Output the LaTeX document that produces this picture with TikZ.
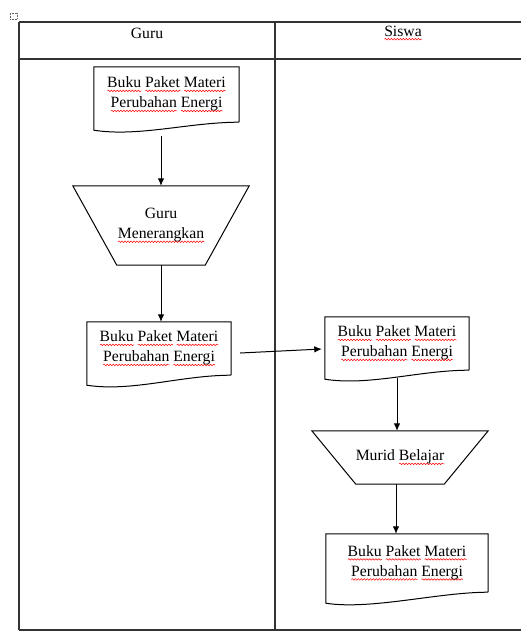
\documentclass[tikz,border=0pt]{standalone}
\usepackage{fontspec}
\setmainfont{Liberation Serif}
\usetikzlibrary{arrows.meta, decorations.pathmorphing}

% red wavy line of the spell check
\newlength{\splw}
\newcommand{\spl}[1]{\settowidth{\splw}{#1}\rlap{\tikz[baseline=0pt]\draw[red, line width=0.5pt, decorate,
  decoration={snake, amplitude=0.8pt, segment length=3pt}] (0pt,-3pt) -- (\splw,-3pt);}#1}
\newcommand{\bukutext}{\spl{Buku} \spl{Paket} \spl{Materi}\\\spl{Perubahan} \spl{Energi}}

\begin{document}
\begin{tikzpicture}[x=1pt, y=-1pt, >={Latex[length=7.5pt,width=6.5pt]},
    txt/.style={font=\fontsize{15.7}{20}\selectfont, align=center, inner sep=0pt},
    tbl/.style={line width=1.4pt, black!80},
    shp/.style={line width=1pt}]
      \useasboundingbox (0,0) rectangle (521,631);

      % Table
      \draw[densely dotted, line width=0.5pt, black!60] (10,13) rectangle (17,19);
      \draw[tbl] (19,22) -- (521,22) (19,59) -- (521,59) (19,630) -- (521,630);
      \draw[tbl] (19,22) -- (19,630) (275,22) -- (275,630);
      \node[txt] (guru) at (147,33) {Guru};
      \node[txt] (siswa) at (403,33) {\spl{Siswa}};

      % Documents
      \node[txt, minimum width=145pt, minimum height=55pt] (bk1) at (166.5,94.5) {\bukutext};
      \node[txt, minimum width=144pt, minimum height=53pt] (bk2) at (159,348.5) {\bukutext};
      \node[txt, minimum width=144pt, minimum height=53pt] (bk3) at (397,343.5) {\bukutext};
      \node[txt, minimum width=162pt, minimum height=58pt] (bk4) at (407,563) {\bukutext};
      \foreach \n/\dr in {bk1/8, bk2/10, bk3/9, bk4/11} {
        \draw[shp] (\n.south east) -- (\n.north east) -- (\n.north west) -- ([yshift=-\dr pt]\n.south west)
          .. controls +(45pt,-7pt) and +(-50pt,0pt) .. (\n.south east);
      };

      % Processes
      \node[txt, minimum width=176pt, minimum height=79pt] (ajar) at (161,225.5) {Guru\\\spl{Menerangkan}};
      \node[txt, minimum width=176pt, minimum height=53pt] (belajar) at (400,457.5) {Murid \spl{Belajar}};
      \foreach \n in {ajar, belajar} {
        \draw[shp] (\n.north west) -- (\n.north east) -- ([xshift=-44pt]\n.south east)
          -- ([xshift=44pt]\n.south west) -- cycle;
      };

      % Arrows
      \draw[shp, ->] ([yshift=-14pt]ajar.north |- bk1.south) -- (ajar.north);
      \draw[shp, ->] (ajar.south) -- (ajar.south |- bk2.north);
      \draw[shp, ->] ([xshift=9pt,yshift=-4.5pt]bk2.east) -- ([xshift=-3pt,yshift=-5.5pt]bk3.west);
      \draw[shp, ->] ([yshift=-8pt]bk3.south) -- (bk3.south |- belajar.north);
      \draw[shp, ->] ([xshift=-4pt]belajar.south) -- ([xshift=-4pt]belajar.south |- bk4.north);
    \end{tikzpicture}
\end{document}
